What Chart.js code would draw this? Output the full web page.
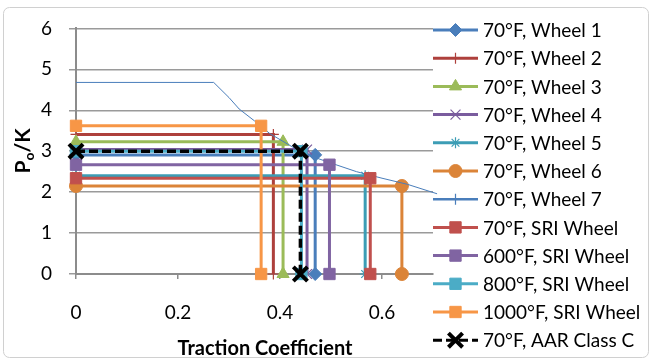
<!DOCTYPE html>
<html><head><meta charset="utf-8">
<script src="https://cdn.jsdelivr.net/npm/chart.js@4/dist/chart.umd.min.js"></script>
<style>html,body{margin:0;padding:0;background:#fff}#wrap{width:652px;height:360px;position:relative}</style>
</head><body><div id="wrap"><canvas id="c" width="652" height="360"></canvas></div>
<script>
// ---- data ----
const seriesNames = ['70°F, Wheel 1','70°F, Wheel 2','70°F, Wheel 3','70°F, Wheel 4','70°F, Wheel 5','70°F, Wheel 6','70°F, Wheel 7','70°F, SRI Wheel','600°F, SRI Wheel','800°F, SRI Wheel','1000°F, SRI Wheel','70°F, AAR Class C'];
// plateau P0/K level and traction-coefficient limit of each step series (Wheel 7 is a curve)
const stepLevel = [2.91, 3.41, 3.23, 3.04, 2.40, 2.15, null, 2.34, 2.67, 3.00, 3.62, 3.00];
const stepLimit = [0.469, 0.387, 0.406, 0.453, 0.567, 0.639, null, 0.577, 0.497, 0.442, 0.363, 0.440];
const wheel7X = [0, 0.27, 0.30, 0.32, 0.35, 0.38, 0.41, 0.44, 0.47, 0.50, 0.55, 0.60, 0.65, 0.708];
const wheel7Y = [4.68, 4.68, 4.31, 4.03, 3.74, 3.43, 3.21, 2.99, 2.84, 2.71, 2.50, 2.34, 2.19, 1.96];
const xTickValues = [0, 0.2, 0.4, 0.6];
const yTickValues = [0, 1, 2, 3, 4, 5, 6];

// ---- styles ----
const colors = ['#4A7EBB','#AE403C','#9BBB59','#7A5C9E','#3C9DB5','#DB8438','#4A7EBB','#C0504D','#8064A2','#4BACC6','#F79646','#000000'];
const pStyles = ['rectRot','cross','triangle','crossRot','star','circle','cross','rect','rect','rect','rect','crossRot'];
const pRadius = [6.5,5.5,7,7,5.5,6.5,5.5,8,8,8,8,10];
const pBorder = [1,1.2,1,1.2,1.2,1,1.2,1,1,1,1,4];
const FONT = 'Lato, "Open Sans", sans-serif';

const datasets = seriesNames.map((name, i) => {
  let data;
  if (i === 6) data = wheel7X.map((x, j) => ({x, y: wheel7Y[j]}));
  else data = [{x: 0, y: stepLevel[i]}, {x: stepLimit[i], y: stepLevel[i]}, {x: stepLimit[i], y: 0}];
  return {
    label: name, data,
    borderColor: colors[i], backgroundColor: colors[i],
    borderWidth: i === 6 ? 1 : (i === 11 ? 3.5 : 3),
    borderDash: i === 11 ? [9, 4] : [],
    pointStyle: pStyles[i], pointRadius: i === 6 ? 0 : pRadius[i],
    pointBorderWidth: pBorder[i], pointBorderColor: colors[i], pointBackgroundColor: colors[i],
    tension: 0, clip: false, order: 20 - i
  };
});

function marker(ctx, i, x, y) {
  ctx.save();
  ctx.fillStyle = colors[i]; ctx.strokeStyle = colors[i];
  ctx.lineWidth = pBorder[i]; ctx.setLineDash([]);
  Chart.helpers.drawPoint(ctx, {pointStyle: pStyles[i], radius: pRadius[i], rotation: 0, borderWidth: pBorder[i]}, x, y);
  ctx.restore();
}

const decor = {
  id: 'decor',
  beforeDraw(chart) {
    const ctx = chart.ctx;
    ctx.save();
    ctx.fillStyle = '#fff'; ctx.fillRect(0, 0, 652, 360);
    ctx.strokeStyle = '#d0d0d0'; ctx.lineWidth = 1;
    ctx.beginPath();
    if (ctx.roundRect) ctx.roundRect(3.5, 7.5, 645, 350, 6); else ctx.rect(3.5, 7.5, 645, 350);
    ctx.stroke();
    ctx.restore();
  },
  afterDraw(chart) {
    const ctx = chart.ctx;
    ctx.save();
    // legend
    const lx0 = 433, lx1 = 478;
    seriesNames.forEach((name, i) => {
      const y = 30 + i * 28.2;
      ctx.save();
      ctx.strokeStyle = colors[i];
      ctx.lineWidth = i === 6 ? 2.5 : 3;
      if (i === 11) ctx.setLineDash([9, 4]);
      ctx.beginPath(); ctx.moveTo(lx0, y); ctx.lineTo(lx1, y); ctx.stroke();
      ctx.restore();
      marker(ctx, i, (lx0 + lx1) / 2, y);
      ctx.fillStyle = '#000';
      ctx.font = '19px ' + FONT;
      ctx.textBaseline = 'middle'; ctx.textAlign = 'left';
      ctx.fillText(name, 483, y + 1);
    });
    // x title
    ctx.fillStyle = '#000';
    ctx.font = 'bold 20px ' + FONT;
    ctx.textAlign = 'center'; ctx.textBaseline = 'alphabetic';
    ctx.fillText('Traction Coefficient', 265, 355);
    // y title with subscript
    ctx.save();
    ctx.translate(30, 151); ctx.rotate(-Math.PI / 2);
    ctx.textAlign = 'left'; ctx.textBaseline = 'alphabetic';
    const big = 'bold 21px ' + FONT, small = 'bold 14px ' + FONT;
    ctx.font = big; const wP = ctx.measureText('P').width, wK = ctx.measureText('/K').width;
    ctx.font = small; const wo = ctx.measureText('o').width;
    let x = -(wP + wo + wK) / 2;
    ctx.font = big; ctx.fillText('P', x, 0); x += wP;
    ctx.font = small; ctx.fillText('o', x, 4); x += wo;
    ctx.font = big; ctx.fillText('/K', x, 0);
    ctx.restore();
    ctx.restore();
  }
};

new Chart(document.getElementById('c'), {
  type: 'line',
  data: {datasets},
  plugins: [decor],
  options: {
    responsive: false, animation: false, devicePixelRatio: 1,
    layout: {padding: {left: 0, right: 219, top: 25, bottom: 0}},
    plugins: {legend: {display: false}, tooltip: {enabled: false}},
    scales: {
      x: {
        type: 'linear', min: 0, max: 0.7,
        afterBuildTicks: s => { s.ticks = xTickValues.map(v => ({value: v})); },
        afterFit: s => { s.height = 86; },
        grid: {drawOnChartArea: false, color: '#8c8c8c', lineWidth: 1.5, tickLength: 5},
        border: {color: '#8c8c8c', width: 2},
        ticks: {color: '#000', font: {family: FONT, size: 19}, padding: 22, maxRotation: 0,
          callback: v => String(Math.round(v * 10) / 10)}
      },
      y: {
        type: 'linear', min: 0, max: 6,
        afterBuildTicks: s => { s.ticks = yTickValues.map(v => ({value: v})); },
        afterFit: s => { s.width = 76; },
        grid: {color: '#9a9a9a', lineWidth: 1.5, tickLength: 7},
        border: {color: '#8c8c8c', width: 2},
        ticks: {color: '#000', font: {family: FONT, size: 19}, padding: 17}
      }
    }
  }
});
</script></body></html>
